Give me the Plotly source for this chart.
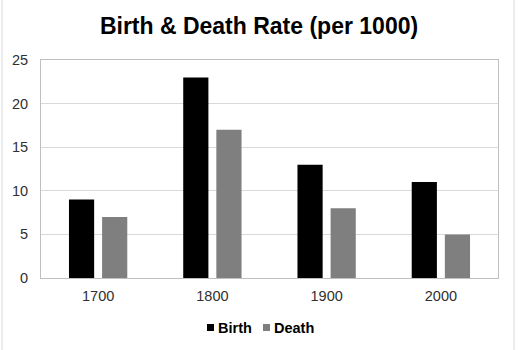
import plotly.graph_objects as go

# Crude birth and death rates per 1000 people, by year
years = ["1700", "1800", "1900", "2000"]
birth = [9, 23, 13, 11]
death = [7, 17, 8, 5]
y_ticks = [0, 5, 10, 15, 20, 25]

FONT = "Arial, Liberation Sans, sans-serif"
BIRTH_COLOR = "#000000"
DEATH_COLOR = "#7f7f7f"
TICK_COLOR = "#303030"

fig = go.Figure()
fig.add_trace(go.Bar(x=years, y=birth, name="Birth", marker_color=BIRTH_COLOR,
                     marker_line_width=0, showlegend=False))
fig.add_trace(go.Bar(x=years, y=death, name="Death", marker_color=DEATH_COLOR,
                     marker_line_width=0, showlegend=False))

fig.update_layout(
    width=518, height=350,
    margin=dict(l=41, r=20, t=60, b=72),
    paper_bgcolor="white", plot_bgcolor="white",
    barmode="group", bargap=0.42, bargroupgap=0.24,
    title=dict(text="<b>Birth &amp; Death Rate (per 1000)</b>",
               font=dict(family=FONT, size=23, color="#000000"),
               x=0.5, xanchor="center", y=1 - 26 / 350, yanchor="middle"),
    font=dict(family=FONT, size=14, color=TICK_COLOR),
)

fig.update_xaxes(
    type="category", showgrid=False, showline=True, linecolor="#bfbfbf",
    linewidth=1, mirror=True, ticks="", ticklabelstandoff=5,
    tickfont=dict(family=FONT, size=14.5, color=TICK_COLOR),
)
fig.update_yaxes(
    range=[0, 25], tickvals=y_ticks, showgrid=True, gridcolor="#d9d9d9",
    gridwidth=1, showline=True, linecolor="#bfbfbf", linewidth=1, mirror=True,
    ticks="", ticklabelstandoff=9, zeroline=False,
    tickfont=dict(family=FONT, size=14.5, color=TICK_COLOR),
)

# Legend: swatches and labels below the axis
legend_items = [("Birth", BIRTH_COLOR, 207), ("Death", DEATH_COLOR, 263)]
for label, color, x0 in legend_items:
    fig.add_shape(type="rect", xref="paper", yref="paper",
                  x0=(x0 - 41) / 457, x1=(x0 + 7 - 41) / 457,
                  y0=(278 - 331) / 218, y1=(278 - 324) / 218,
                  fillcolor=color, line_width=0)
    fig.add_annotation(text="<b>" + label + "</b>", xref="paper", yref="paper",
                       x=(x0 + 9 - 41) / 457, y=(278 - 327.5) / 218,
                       xanchor="left", yanchor="middle", showarrow=False,
                       font=dict(family=FONT, size=14.5, color="#000000"))

# Thin side edges of the chart frame
for xe in (2, 514):
    fig.add_shape(type="line", xref="paper", yref="paper",
                  x0=(xe - 41) / 457, x1=(xe - 41) / 457,
                  y0=(278 - 350) / 218, y1=(278 - 0) / 218,
                  line=dict(color="#d9d9d9", width=1))

fig.write_html("out.html")
